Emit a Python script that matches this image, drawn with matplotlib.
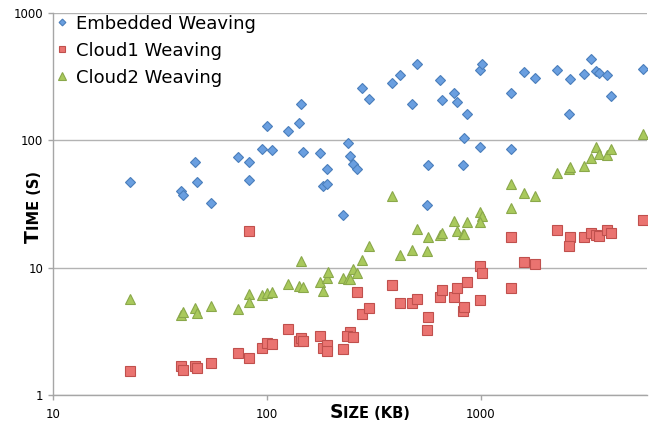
import matplotlib
matplotlib.use("Agg")
import matplotlib.pyplot as plt
from matplotlib.ticker import FixedLocator, NullLocator

# ---- data ----
emb_x = [23.0, 39.8, 40.6, 46.1, 46.9, 54.5, 73.4, 82.9, 82.9, 94.4, 100.3, 105.9, 124.9, 140.5,
         143.6, 146.7, 177.4, 191.9, 182.7, 191.9, 225.6, 239, 245.8, 253, 264, 278, 298.5, 386,
         421, 505, 479, 569, 561, 641, 655, 753, 777, 857, 829, 836, 995, 1017, 995, 1386, 1386,
         1598, 1794, 2280, 2623, 2594, 3029, 3287, 3469, 3583, 3880, 4077, 5733]
emb_y = [47.2, 39.9, 36.9, 67.7, 46.9, 32.1, 73.7, 67.3, 48.9, 84.7, 129.7, 83.2, 118.5, 136.2,
         190.9, 81.1, 78.7, 59.6, 43.9, 45.0, 25.8, 94.4, 74.6, 64.9, 59.3, 257.7, 211.3, 282,
         326, 397.8, 192, 63.4, 30.8, 296, 205, 235.5, 199, 161, 63.4, 103.3, 353, 398, 87.8, 233,
         84.7, 340.6, 305.6, 354.9, 301.7, 159.4, 330.3, 430.8, 348.6, 338, 324.3, 220.7, 361.4]

c1_x = [23.0, 39.8, 40.6, 46.1, 46.9, 54.5, 73.4, 82.9, 82.9, 94.4, 100.3, 105.9, 124.9, 140.5,
        143.6, 146.7, 177.4, 182.7, 191.9, 191.9, 225.6, 245.8, 237, 253, 264, 278, 298.5, 386,
        421, 479, 505, 569, 561, 641, 655, 753, 777, 857, 829, 836, 995, 1017, 995, 1386, 1386,
        1598, 1794, 2280, 2623, 2594, 3029, 3287, 3469, 3583, 3880, 4077, 5733]
c1_y = [1.53, 1.68, 1.57, 1.70, 1.63, 1.77, 2.12, 19.2, 1.94, 2.32, 2.57, 2.51, 3.31, 2.66,
        2.81, 2.66, 2.88, 2.35, 2.45, 2.22, 2.29, 3.12, 2.90, 2.85, 6.39, 4.30, 4.78, 7.29,
        5.23, 5.23, 5.62, 4.07, 3.21, 5.83, 6.66, 5.90, 6.94, 7.65, 4.53, 4.92, 10.33, 9.06, 5.59,
        17.5, 6.87, 11.05, 10.7, 19.8, 17.5, 14.7, 17.3, 18.6, 18.1, 17.7, 19.8, 18.6, 23.5]

c2_x = [23.0, 39.8, 40.6, 46.1, 46.9, 54.5, 73.4, 82.9, 82.9, 94.4, 100.3, 105.9, 124.9, 140.5,
        143.6, 146.7, 177.4, 182.7, 191.9, 193.6, 225.6, 239, 245.8, 253, 264, 278, 298.5, 386,
        421, 479, 505, 561, 569, 641, 655, 753, 777, 829, 836, 857, 995, 1017, 995, 1386, 1386,
        1598, 1794, 2280, 2594, 2623, 3029, 3287, 3469, 3583, 3880, 4077, 5733]
c2_y = [5.69, 4.26, 4.48, 4.81, 4.37, 4.99, 4.75, 6.19, 5.39, 6.08, 6.27, 6.46, 7.46, 7.12,
        11.19, 6.99, 7.69, 6.58, 8.31, 9.27, 8.31, 8.08, 8.19, 9.73, 9.01, 11.45, 14.83, 36.2,
        12.53, 13.73, 20.0, 13.4, 17.35, 17.9, 18.6, 23.3, 19.4, 18.2, 18.5, 22.9, 27.1, 25.4, 22.8,
        29.1, 45.0, 38.7, 36.2, 55.2, 59.3, 61.5, 62.3, 72.8, 87.8, 78.2, 76.3, 85.1, 111.1]

series_names = ["Embedded Weaving", "Cloud1 Weaving", "Cloud2 Weaving"]
x_ticks = [10, 100, 1000]
x_tick_labels = ["10", "100", "1000"]
y_ticks = [1, 10, 100, 1000]
y_tick_labels = ["1", "10", "100", "1000"]

# ---- figure ----
W, H = 656, 423
fig = plt.figure(figsize=(W / 100, H / 100), dpi=100)
ax = fig.add_axes([53 / W, 1 - 395 / H, (647 - 53) / W, (395 - 12.7) / H])

ax.set_xscale("log")
ax.set_yscale("log")
ax.set_xlim(10, 5980)
ax.set_ylim(1, 1000)

ax.plot(emb_x, emb_y, linestyle="none", marker="D", markersize=4.6,
        markerfacecolor="#6a9fe0", markeredgecolor="#4a7ebb", markeredgewidth=0.8,
        label=series_names[0], zorder=3)
ax.plot(c1_x, c1_y, linestyle="none", marker="s", markersize=6.6,
        markerfacecolor="#ea7370", markeredgecolor="#c0504d", markeredgewidth=0.8,
        label=series_names[1], zorder=3)
ax.plot(c2_x, c2_y, linestyle="none", marker="^", markersize=7.2,
        markerfacecolor="#a9c95c", markeredgecolor="#8aa84a", markeredgewidth=0.8,
        label=series_names[2], zorder=3)

ax.xaxis.set_major_locator(FixedLocator(x_ticks))
ax.xaxis.set_minor_locator(NullLocator())
ax.set_xticklabels(x_tick_labels)
ax.yaxis.set_major_locator(FixedLocator(y_ticks))
ax.yaxis.set_minor_locator(NullLocator())
ax.set_yticklabels(y_tick_labels)

ax.grid(axis="y", color="#b3b3b3", linewidth=1.0)
ax.set_axisbelow(True)
for s in ["top", "right"]:
    ax.spines[s].set_visible(False)
for s in ["left", "bottom"]:
    ax.spines[s].set_color("#a6a6a6")
    ax.spines[s].set_linewidth(1.0)
ax.tick_params(axis="both", colors="#a6a6a6", labelcolor="black", labelsize=8.5,
               length=3.5, width=1.0)
ax.tick_params(axis="x", pad=6)

leg = ax.legend(loc="upper left", frameon=False, fontsize=13, handletextpad=0.3,
                borderaxespad=0.0, borderpad=0.0, bbox_to_anchor=(0.0, 0.995),
                labelspacing=0.5, handlelength=1.0, markerscale=0.75)

# ---- small-caps axis labels ----
fig.canvas.draw()
renderer = fig.canvas.get_renderer()


def smallcaps_h(first, rest, cx, cy):
    t1 = fig.text(0, cy, first, fontsize=13.5, fontweight="bold", va="baseline", ha="left")
    t2 = fig.text(0, cy, rest, fontsize=10.5, fontweight="bold", va="baseline", ha="left")
    w1 = t1.get_window_extent(renderer).width / W
    w2 = t2.get_window_extent(renderer).width / W
    x0 = cx - (w1 + w2) / 2
    t1.set_x(x0)
    t2.set_x(x0 + w1)


def smallcaps_v(first, rest, cx, cy):
    t1 = fig.text(cx, 0, first, fontsize=13.5, fontweight="bold", va="baseline", ha="left",
                  rotation=90, rotation_mode="anchor")
    t2 = fig.text(cx, 0, rest, fontsize=10.5, fontweight="bold", va="baseline", ha="left",
                  rotation=90, rotation_mode="anchor")
    h1 = t1.get_window_extent(renderer).height / H
    h2 = t2.get_window_extent(renderer).height / H
    y0 = cy - (h1 + h2) / 2
    t1.set_y(y0)
    t2.set_y(y0 + h1)


smallcaps_h("S", "IZE (KB)", 370 / W, 1 - 418 / H)
smallcaps_v("T", "IME (S)", 39 / W, 1 - 207 / H)

fig.savefig("out.png", dpi=100)
